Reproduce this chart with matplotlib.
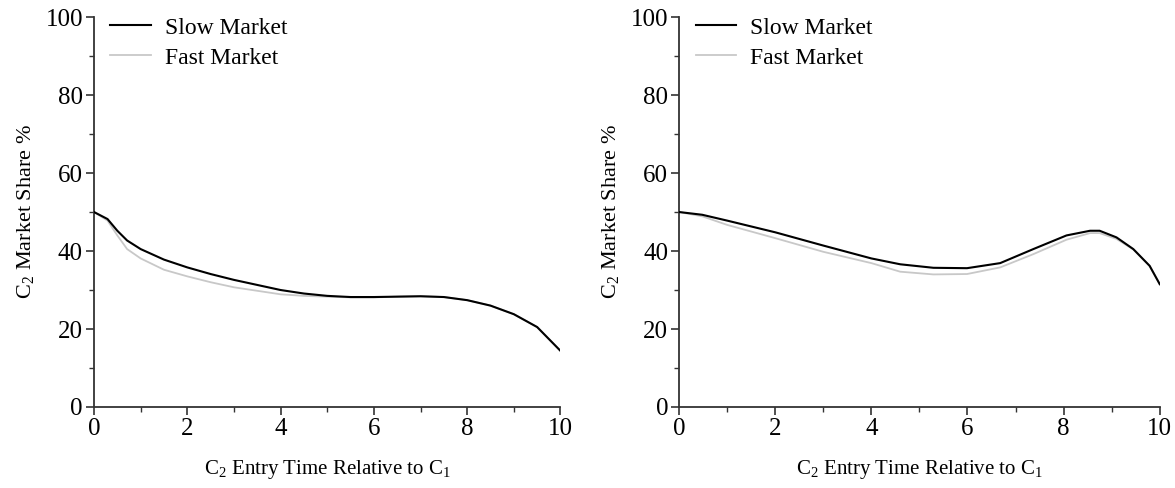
import matplotlib
matplotlib.use("Agg")
import matplotlib.pyplot as plt
from matplotlib.ticker import MultipleLocator

# left panel
x_left = [0, 0.29, 0.5, 0.71, 1, 1.5, 2, 2.5, 3, 3.5, 4, 4.5, 5, 5.5, 6,
          6.5, 7, 7.5, 8, 8.5, 9, 9.5, 10]
slow_left = [50, 48.2, 45.2, 42.7, 40.5, 37.8, 35.8, 34.1, 32.6, 31.3, 30.0,
             29.1, 28.5, 28.2, 28.2, 28.3, 28.4, 28.2, 27.4, 26, 23.8, 20.5, 14.4]
fast_left = [50, 47.8, 44, 40.5, 38.1, 35.2, 33.5, 32, 30.7, 29.8, 28.9, 28.5,
             28.3, 28.1, 28.1, 28.3, 28.4, 28.2, 27.4, 26, 23.8, 20.5, 14.4]

# right panel
x_right = [0, 0.48, 1, 2, 3, 4, 4.6, 5.29, 5.99, 6.68, 7.37, 8.06, 8.55,
           8.75, 9.1, 9.45, 9.79, 10]
slow_right = [50, 49.3, 47.8, 44.8, 41.4, 38.1, 36.6, 35.7, 35.6, 36.9, 40.5,
              44, 45.2, 45.2, 43.5, 40.5, 36.2, 31.5]
fast_right = [50, 48.9, 46.7, 43.3, 39.8, 36.9, 34.7, 34.0, 34.1, 35.8, 39.2,
              42.9, 44.6, 44.6, 43.1, 40.4, 36.2, 31.5]

plt.rcParams["font.family"] = ["Liberation Serif", "DejaVu Serif"]
plt.rcParams["mathtext.fontset"] = "custom"
plt.rcParams["mathtext.rm"] = "Liberation Serif"

AX = "#333333"
fig = plt.figure(figsize=(11.75, 4.88), dpi=100)
ax1 = fig.add_axes([0.080, 0.166, 0.397, 0.799])
ax2 = fig.add_axes([0.578, 0.166, 0.409, 0.799])

for ax, xs, s, f in ((ax1, x_left, slow_left, fast_left),
                     (ax2, x_right, slow_right, fast_right)):
    ax.plot(xs, s, color="black", lw=1.5, label="Slow Market", zorder=3)
    ax.plot(xs, f, color="#c8c8c8", lw=1.3, label="Fast Market", zorder=2)
    ax.set_xlim(0, 10); ax.set_ylim(0, 100)
    ax.xaxis.set_major_locator(MultipleLocator(2))
    ax.xaxis.set_minor_locator(MultipleLocator(1))
    ax.yaxis.set_major_locator(MultipleLocator(20))
    ax.yaxis.set_minor_locator(MultipleLocator(10))
    for sp in ("top", "right"):
        ax.spines[sp].set_visible(False)
    for sp in ("left", "bottom"):
        ax.spines[sp].set_color(AX); ax.spines[sp].set_linewidth(1.3)
    ax.tick_params(which="major", length=6, width=1.2, color=AX,
                   labelsize=18, pad=2)
    ax.tick_params(which="minor", length=3.5, width=1.0, color=AX)
    ax.set_xlabel(r"C$_2$ Entry Time Relative to C$_1$", fontsize=15,
                  labelpad=13)
    ax.set_ylabel(r"C$_2$ Market Share %", fontsize=16, labelpad=6)
    ax.legend(loc="upper left", frameon=False, fontsize=17,
              handlelength=1.7, handletextpad=0.6,
              labelspacing=0.35, borderaxespad=0.1, bbox_to_anchor=(0.01, 1.03))

fig.savefig("out.png", dpi=100)
